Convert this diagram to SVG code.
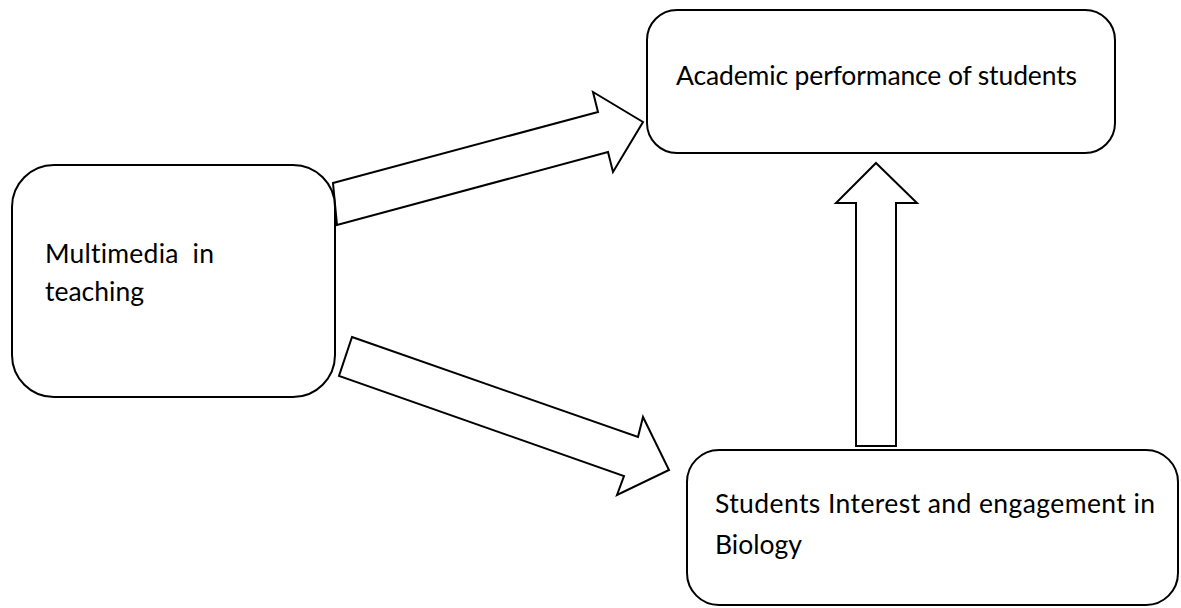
<svg xmlns="http://www.w3.org/2000/svg" width="1181" height="608" viewBox="0 0 1181 608">
<style>
.box{fill:#fff;stroke:#000;stroke-width:2}
.arr{fill:#fff;stroke:#000;stroke-width:2;stroke-linejoin:miter}
.t{font-family:Lato,"Open Sans","Liberation Sans",sans-serif;font-size:26.5px;fill:#000;white-space:pre;font-variant-ligatures:none}
</style>
<rect width="1181" height="608" fill="#fff"/>
<g id="connectors">
<polygon class="arr" points="333,183 598,112 593,92 643,122 613,172 608,152 337,225"/>
<polygon class="arr" points="352,337 638,437 643,417 669,470 617,495 624,476 339,376"/>
<polygon class="arr" points="876,163 917,203 896,203 896,446 856,446 856,203 836,203"/>
</g>
<g id="node-multimedia">
<rect class="box" x="12" y="165" width="323" height="232" rx="42"/>
<text class="t" x="45" y="263" xml:space="preserve" textLength="169" lengthAdjust="spacing">Multimedia  in</text>
<text class="t" x="45" y="301">teaching</text>
</g>
<g id="node-academic">
<rect class="box" x="647" y="10" width="468" height="143" rx="30"/>
<text class="t" x="676" y="85" textLength="401" lengthAdjust="spacing">Academic performance of students</text>
</g>
<g id="node-interest">
<rect class="box" x="687" y="450" width="491" height="155" rx="32"/>
<text class="t" x="715" y="513" textLength="440" lengthAdjust="spacing">Students Interest and engagement in</text>
<text class="t" x="715" y="554">Biology</text>
</g>
</svg>
